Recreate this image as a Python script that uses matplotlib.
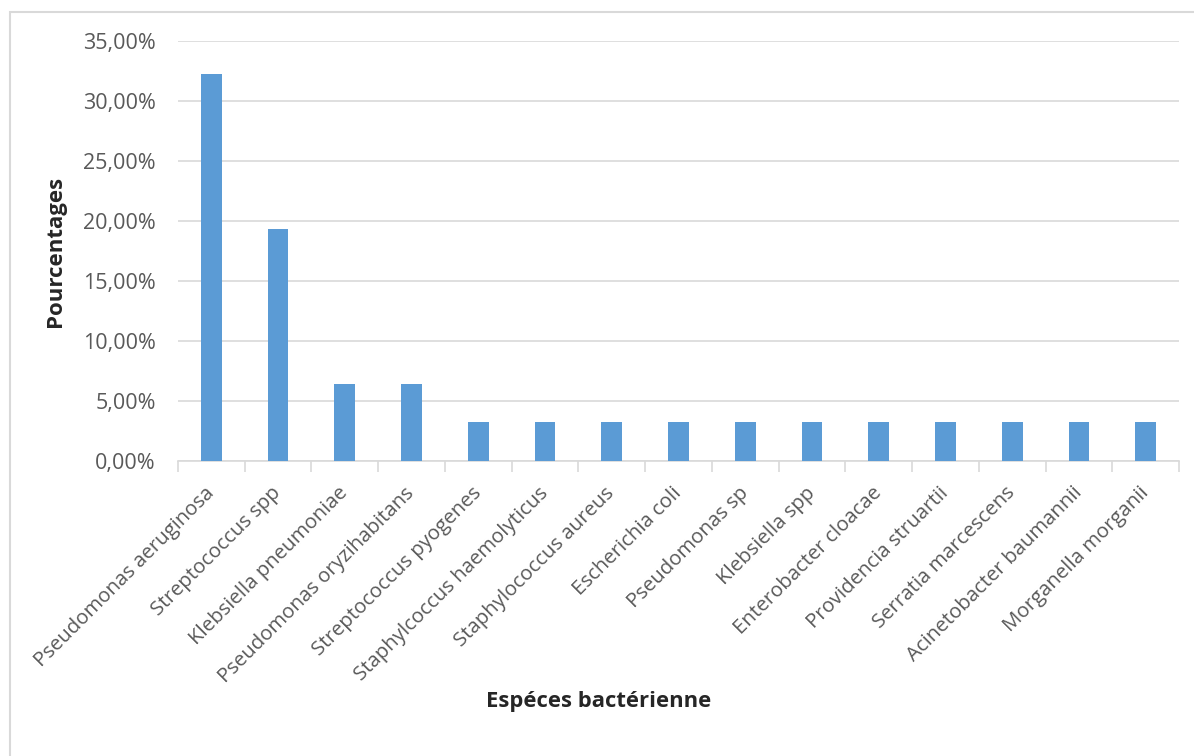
import matplotlib
matplotlib.use("Agg")
import matplotlib.pyplot as plt
from matplotlib.patches import Rectangle
from matplotlib.ticker import FuncFormatter, FixedLocator

species = [
    "Pseudomonas aeruginosa", "Streptococcus spp", "Klebsiella pneumoniae",
    "Pseudomonas oryzihabitans", "Streptococcus pyogenes",
    "Staphylcoccus haemolyticus", "Staphylococcus aureus", "Escherichia coli",
    "Pseudomonas sp", "Klebsiella spp", "Enterobacter cloacae",
    "Providencia struartii", "Serratia marcescens", "Acinetobacter baumannii",
    "Morganella morganii",
]
percentages = [32.26, 19.35, 6.45, 6.45, 3.23, 3.23, 3.23, 3.23,
               3.23, 3.23, 3.23, 3.23, 3.23, 3.23, 3.23]
y_ticks = [0, 5, 10, 15, 20, 25, 30, 35]

plt.rcParams['font.family'] = ['Open Sans', 'DejaVu Sans']

W, H, DPI = 1194, 756, 100
fig = plt.figure(figsize=(W / DPI, H / DPI), dpi=DPI)

# Chart-area frame (only the left and top edges fall inside the canvas)
fig.patches.append(Rectangle((10 / W, -0.1), 1.2, 1.1 - 12 / H,
                             transform=fig.transFigure, fill=False,
                             edgecolor='#d9d9d9', linewidth=1.5))

ax = fig.add_axes([178 / W, 1 - 461 / H, (1179 - 178) / W, (461 - 41) / H])

x = range(len(species))
ax.bar(x, percentages, width=0.31, color='#5b9bd5', zorder=3)

ax.set_xlim(-0.5, len(species) - 0.5)
ax.set_ylim(0, 35)
ax.yaxis.set_major_locator(FixedLocator(y_ticks))
ax.yaxis.set_major_formatter(FuncFormatter(lambda v, p: f"{v:.2f}%".replace('.', ',')))
ax.grid(axis='y', color='#d9d9d9', linewidth=1.2, zorder=0)

for s in ['top', 'right', 'left']:
    ax.spines[s].set_visible(False)
ax.spines['bottom'].set_color('#d9d9d9')
ax.spines['bottom'].set_linewidth(1.2)

ax.set_xticks(list(x))
ax.set_xticklabels(species, rotation=45, ha='right', va='center',
                   rotation_mode='anchor', fontsize=14.7, color='#595959')
ax.tick_params(axis='x', which='major', length=0, pad=21)
ax.set_xticks([i - 0.5 for i in range(len(species) + 1)], minor=True)
ax.tick_params(axis='x', which='minor', length=8, color='#d9d9d9', width=1.2)
ax.tick_params(axis='y', length=0, labelsize=15.5, labelcolor='#595959', pad=16)

ax.set_ylabel("Pourcentages", fontsize=16, fontweight='bold', color='#262626', labelpad=12)
ax.set_xlabel("Espéces bactérienne", fontsize=15.8, fontweight='bold',
              color='#262626', va='center')
ax.xaxis.set_label_coords((598.5 - 178) / (1179 - 178), -(702 - 461) / (461 - 41))

fig.savefig("out.png", dpi=DPI)
